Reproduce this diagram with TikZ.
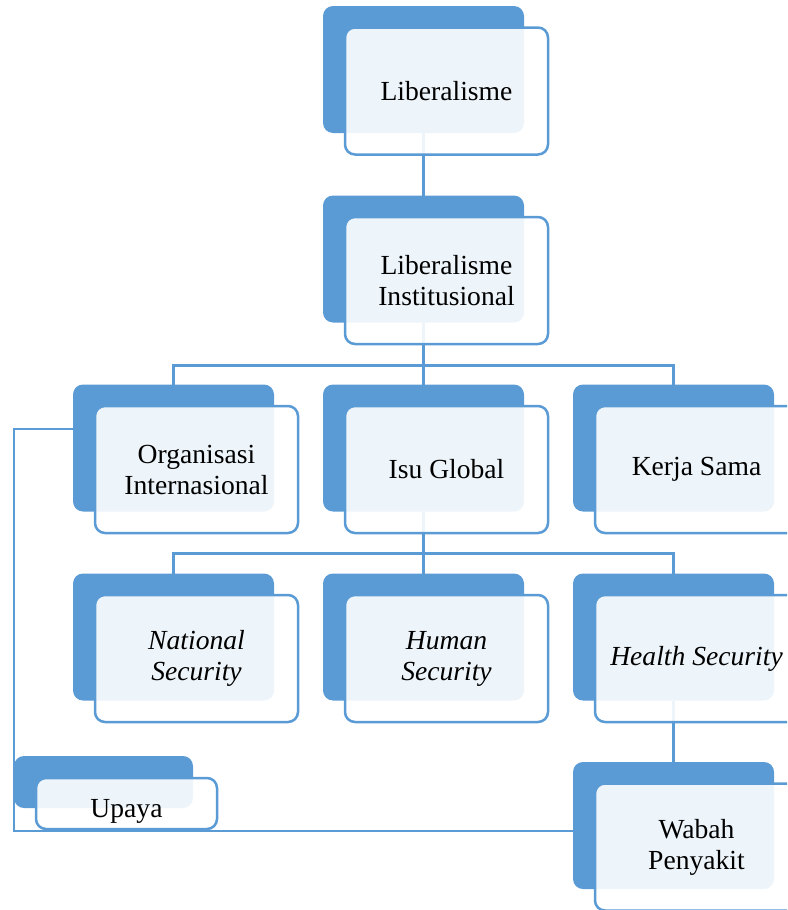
\documentclass[tikz,border=0pt]{standalone}
\usepackage{fontspec}
\setmainfont{Liberation Serif}
\usetikzlibrary{positioning, calc, backgrounds}
\definecolor{cblue}{HTML}{5B9BD5}
\newcommand{\boxfont}{\fontsize{27.6}{31}\selectfont}
\tikzset{
  every picture/.style={line width=2.5pt},
  back/.style={fill=cblue, rounded corners=10pt, minimum width=201pt, minimum height=127pt, inner sep=0pt, outer sep=0pt},
  front/.style={draw=cblue, fill=white, fill opacity=0.9, text opacity=1, rounded corners=10pt, minimum width=203pt, minimum height=127pt, align=center, inner sep=3pt, outer sep=0pt, font=\boxfont},
  upright/.style={},
  italic/.style={font=\boxfont\itshape},
  link/.style={draw=cblue, line width=2.5pt},
}

\begin{document}
\begin{tikzpicture}[x=1pt, y=-1pt]
  \clip (0,0) rectangle (787,910);
  \foreach \n/\x/\y/\s/\t in {lib/423.5/69.5/upright/{Liberalisme},
      inst/423.5/259/upright/{Liberalisme\\Institusional},
      org/173.5/448/upright/{Organisasi\\Internasional},
      isu/423.5/448/upright/{Isu Global},
      kerja/673.5/448/upright/{Kerja Sama},
      nat/173.5/637/italic/{National\\Security},
      hum/423.5/637/italic/{Human\\Security},
      hea/673.5/637/italic/{Health Security},
      wabah/673.5/825.5/upright/{Wabah\\Penyakit}} {
    \node[back] (\n-b) at (\x,\y) {};
    \node[front, \s] (\n) at ([shift={(23,21.5)}]\n-b.center) {\t};
  }
  \node[back, minimum width=179pt, minimum height=52pt] (upaya-b) at (103.5,782) {};
  \node[front, minimum width=181pt, minimum height=51pt, text height=27pt, text depth=0pt] (upaya) at ([shift={(23,21.5)}]upaya-b.center) {Upaya};
  \begin{scope}[on background layer]
    \draw[link] (lib-b.south) -- (inst-b.north);
    \foreach \n in {org,isu,kerja} \draw[link] (inst-b.south) -- ++(0,43) -| (\n-b.north);
    \foreach \n in {nat,hum,hea} \draw[link] (isu-b.south) -- ++(0,42) -| (\n-b.north);
    \draw[link] (hea-b.south) -- (wabah-b.north);
    \draw[link] ([yshift=19pt]org-b.west) -| (upaya-b.west) |- ([yshift=-5.5pt]wabah-b.west);
  \end{scope}
\end{tikzpicture}
\end{document}
